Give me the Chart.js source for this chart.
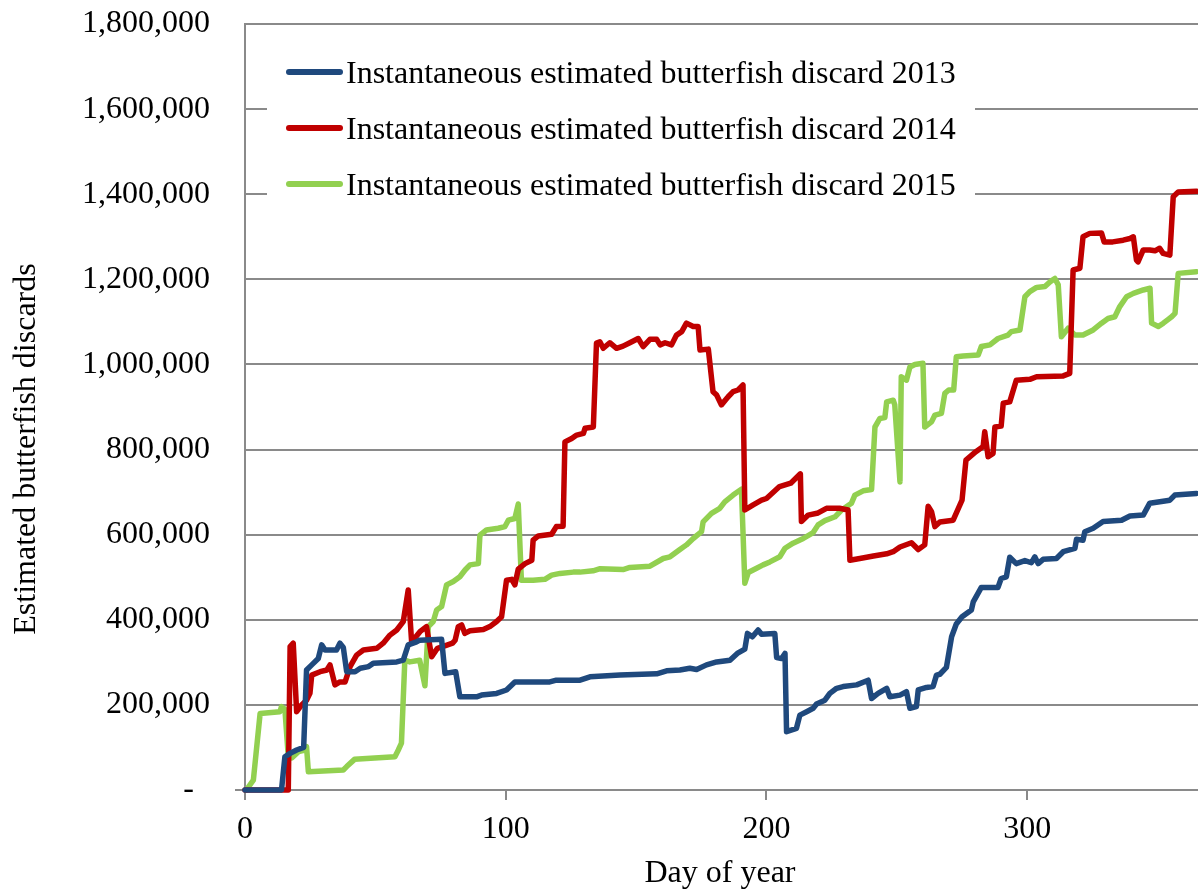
<!DOCTYPE html>
<html>
<head>
<meta charset="utf-8">
<script src="https://cdn.jsdelivr.net/npm/chart.js@4.4.1/dist/chart.umd.min.js"></script>
<style>
  html, body { margin: 0; padding: 0; background: #fff; }
  #wrap { width: 1198px; height: 894px; }
</style>
</head>
<body>
<div id="wrap"><canvas id="chart" width="1198" height="894"></canvas></div>
<script>
// values are in thousands of fish
const days2013 = [0, 14, 15.3, 17.3, 19.8, 22.5, 23.6, 25.6, 28.1, 29.4, 30.7, 35.1, 36.4, 37.7, 39, 42.2, 44.2, 47.4, 49.2, 58.2, 60.7, 62.6, 65.8, 67, 75.4, 76.7, 80.8, 82.4, 88.8, 90.7, 96.5, 100.3, 103.5, 116.9, 119.4, 128.5, 132.3, 143.8, 157.9, 161.7, 166.8, 170.6, 173.2, 177, 180.9, 186, 188.8, 191.7, 192.7, 194.6, 196.8, 198.1, 203.2, 203.9, 205.8, 207.1, 207.7, 211.5, 212.8, 215.4, 217.9, 219.2, 222.4, 224.3, 226.9, 229.4, 234.6, 239, 240.3, 242.8, 246.1, 247.3, 251.2, 253.7, 255, 257.5, 258.2, 261.4, 263.9, 265.2, 266.5, 269, 271, 272.8, 275, 278.6, 279.3, 282.4, 288.8, 290, 292, 293.3, 295.8, 299.1, 301.6, 302.9, 304.2, 306.1, 311.2, 313.8, 318.3, 318.9, 321.4, 322.1, 325.3, 329.1, 336.2, 339.4, 344.5, 347, 354.7, 356.6, 364.9];
const vals2013 = [0, 0, 78, 86, 94, 100, 282, 294, 309, 341, 329, 329, 345, 335, 278, 278, 286, 290, 298, 301, 305, 341, 348, 352, 354, 274, 278, 219, 219, 223, 227, 235, 254, 254, 258, 258, 266, 270, 273, 280, 282, 286, 283, 294, 301, 305, 321, 331, 368, 360, 376, 366, 368, 311, 309, 321, 137, 145, 176, 184, 192, 202, 211, 227, 239, 243, 247, 258, 215, 227, 239, 219, 223, 231, 192, 196, 235, 241, 243, 270, 272, 288, 360, 390, 407, 423, 442, 476, 476, 497, 501, 547, 532, 539, 534, 548, 532, 542, 544, 560, 568, 589, 587, 607, 615, 631, 634, 644, 646, 674, 681, 693, 697];

const days2014 = [0, 16.6, 17.3, 18.5, 19.8, 21.7, 23.6, 24.9, 25.6, 28.8, 31.4, 32.6, 34.5, 36.4, 38.4, 40.3, 42.8, 45.4, 50.5, 53, 55.6, 58.2, 60.7, 62.6, 63.9, 67.1, 69.6, 71.6, 73.8, 75.8, 79.6, 80.6, 81.8, 83.1, 84.3, 86.3, 91.4, 93.9, 96.5, 98.4, 100.3, 102.3, 103.5, 104.8, 107.4, 110, 110.5, 112.5, 117.6, 119.4, 122, 122.7, 125.3, 127.2, 129.8, 130.4, 133.6, 134.8, 136.1, 137.4, 139.9, 142.5, 145, 147.6, 150.8, 152.7, 155.3, 157.9, 159.2, 161.1, 163.6, 165.5, 167.5, 169.3, 171.9, 173.8, 174.5, 177.7, 179.5, 180.9, 182.7, 185.3, 187.2, 189.1, 191, 191.7, 194.9, 198.1, 200, 205, 209.3, 213, 213.4, 216, 219.8, 223, 228, 231.3, 232, 235.8, 241, 246.1, 248.6, 251.2, 255.6, 258.2, 260.7, 262, 263.3, 264.6, 266.5, 271.6, 275, 276.5, 280.3, 283.1, 283.7, 285, 286.9, 287.6, 290, 290.8, 293.3, 295.8, 301, 303.6, 313.8, 316.3, 317.6, 320.2, 321.4, 324, 328.5, 329.5, 332.8, 336.8, 339.4, 340.7, 341.9, 342.5, 344.5, 347, 349, 350.8, 352.1, 354.7, 356, 357.9, 364.9];
const vals2014 = [0, 0, 337, 345, 184, 200, 211, 227, 270, 278, 282, 294, 247, 254, 254, 290, 317, 329, 333, 345, 364, 376, 396, 470, 348, 372, 384, 313, 333, 337, 345, 352, 384, 388, 368, 374, 377, 384, 396, 407, 493, 495, 482, 519, 532, 540, 587, 597, 601, 619, 620, 818, 826, 834, 838, 850, 853, 1050, 1053, 1038, 1051, 1038, 1043, 1051, 1061, 1042, 1059, 1059, 1046, 1051, 1046, 1069, 1077, 1097, 1089, 1089, 1034, 1036, 936, 928, 905, 924, 936, 940, 952, 658, 670, 681, 685, 713, 721, 743, 631, 646, 651, 662, 662, 658, 540, 544, 550, 555, 560, 571, 581, 565, 576, 667, 654, 619, 630, 634, 681, 775, 795, 807, 842, 783, 791, 853, 855, 909, 912, 963, 965, 971, 973, 979, 1222, 1226, 1300, 1308, 1309, 1288, 1288, 1292, 1296, 1300, 1245, 1241, 1269, 1269, 1267, 1273, 1261, 1257, 1394, 1405, 1407];

const days2015 = [0.5, 3.2, 5.8, 13.4, 14, 15.3, 16.6, 17.9, 20.5, 23, 23.6, 24.3, 37.7, 39, 42, 57.5, 58.8, 60, 61.3, 63.2, 67, 69, 70.3, 72.2, 73.5, 75.4, 77.3, 79.9, 82.4, 84.4, 86.3, 89.5, 90.1, 92.6, 97.1, 99.7, 101, 103.5, 104.8, 106, 110.5, 115, 117.6, 120.8, 125.9, 128.5, 133.5, 136.2, 145, 147.6, 155.3, 160.4, 163, 166.8, 169.3, 171.9, 175.1, 175.7, 178.9, 182.1, 184, 187.2, 190.4, 191.7, 193, 196.2, 198.7, 201.3, 205.1, 207.1, 210.2, 214.1, 217.9, 219.8, 222.4, 226.3, 228.8, 232.6, 233.9, 237.1, 240.3, 241.6, 243.5, 245.4, 246.1, 248.6, 249.2, 251.2, 251.7, 253.7, 255, 256.9, 260, 260.7, 263.3, 264.6, 267.1, 268.4, 269.9, 271.8, 272.8, 275.4, 281.2, 282.4, 285.7, 288.8, 292.6, 293.9, 297.2, 299.1, 301, 303.6, 306.8, 308.7, 310.6, 311.9, 313.1, 315.7, 318.3, 321.4, 325.3, 328.5, 331, 333.6, 335.5, 338.1, 340.7, 344.5, 347.1, 347.7, 350.3, 352.2, 354.1, 355.4, 356.7, 357.9, 364.9];
const vals2015 = [0, 23, 180, 184, 196, 190, 78, 75, 90, 94, 102, 43, 47, 55, 72, 78, 94, 110, 305, 301, 305, 245, 384, 396, 423, 431, 482, 490, 501, 517, 529, 532, 599, 611, 615, 619, 634, 638, 672, 493, 493, 495, 505, 509, 512, 512, 515, 520, 518, 523, 526, 544, 548, 565, 576, 591, 607, 630, 650, 662, 677, 693, 707, 486, 511, 521, 529, 536, 548, 568, 580, 591, 605, 623, 633, 642, 658, 674, 693, 703, 706, 853, 873, 875, 912, 916, 905, 724, 971, 963, 994, 1000, 1003, 853, 865, 881, 885, 932, 940, 940, 1018, 1020, 1022, 1042, 1046, 1061, 1069, 1077, 1081, 1159, 1171, 1181, 1183, 1194, 1202, 1187, 1065, 1085, 1069, 1069, 1081, 1097, 1108, 1112, 1136, 1159, 1167, 1175, 1179, 1097, 1089, 1097, 1106, 1112, 1120, 1214, 1218];

const seriesLabels = [
  'Instantaneous estimated butterfish discard 2013',
  'Instantaneous estimated butterfish discard 2014',
  'Instantaneous estimated butterfish discard 2015'
];
const seriesColors = ['#1F497D', '#C00000', '#92D050'];
const xTicks = [0, 100, 200, 300];
const xTitle = 'Day of year';
const yTitle = 'Estimated butterfish discards';

const FONT = "'Liberation Serif', 'Times New Roman', serif";
const GRID = '#8a8a8a';

function toPoints(days, vals) {
  return days.map((d, i) => ({ x: d, y: vals[i] * 1000 }));
}

const datasets = [
  toPoints(days2013, vals2013),
  toPoints(days2014, vals2014),
  toPoints(days2015, vals2015)
].map((pts, i) => ({
  label: seriesLabels[i],
  data: pts,
  borderColor: seriesColors[i],
  backgroundColor: seriesColors[i],
  borderWidth: 5.5,
  pointRadius: 0,
  tension: 0,
  fill: false,
  clip: false,
  borderJoinStyle: 'round',
  borderCapStyle: 'round',
  order: i + 1
}));

const decorPlugin = {
  id: 'decor',
  beforeDatasetsDraw(chart) {
    const ctx = chart.ctx;
    ctx.save();
    // little stub where the x axis runs past the y axis
    ctx.strokeStyle = GRID;
    ctx.lineWidth = 2;
    ctx.beginPath();
    ctx.moveTo(235, chart.chartArea.bottom);
    ctx.lineTo(245, chart.chartArea.bottom);
    ctx.stroke();
    // legend box
    ctx.fillStyle = '#fff';
    ctx.fillRect(267, 40, 708, 172);
    const rows = [72, 128, 184];
    rows.forEach((y, i) => {
      ctx.strokeStyle = seriesColors[i];
      ctx.lineWidth = 6;
      ctx.lineCap = 'round';
      ctx.beginPath();
      ctx.moveTo(289, y);
      ctx.lineTo(340, y);
      ctx.stroke();
      ctx.fillStyle = '#000';
      ctx.font = '32px ' + FONT;
      ctx.textAlign = 'left';
      ctx.textBaseline = 'alphabetic';
      ctx.fillText(seriesLabels[i], 346, y + 11);
    });
    ctx.restore();
  },
  afterDraw(chart) {
    const ctx = chart.ctx;
    ctx.save();
    ctx.fillStyle = '#000';
    ctx.font = '32px ' + FONT;
    ctx.textAlign = 'center';
    ctx.textBaseline = 'alphabetic';
    ctx.fillText(xTitle, 720, 882);
    ctx.translate(35, 449);
    ctx.rotate(-Math.PI / 2);
    ctx.fillText(yTitle, 0, 0);
    ctx.restore();
  }
};

new Chart(document.getElementById('chart'), {
  type: 'line',
  data: { datasets },
  options: {
    responsive: false,
    animation: false,
    layout: { padding: { top: 24, right: 0, left: 0, bottom: 0 } },
    plugins: {
      legend: { display: false },
      tooltip: { enabled: false }
    },
    scales: {
      x: {
        type: 'linear',
        min: 0,
        max: 365.5,
        afterBuildTicks(scale) {
          scale.ticks = xTicks.map(v => ({ value: v }));
        },
        afterFit(scale) {
          scale.height = 104;
          scale.paddingLeft = 0;
          scale.paddingRight = 0;
        },
        border: { display: true, color: GRID, width: 2 },
        grid: { drawOnChartArea: false, drawTicks: true, tickLength: 10, color: GRID, lineWidth: 2 },
        ticks: {
          color: '#000',
          font: { family: FONT, size: 32 },
          padding: 10,
          maxRotation: 0,
          autoSkip: false
        }
      },
      y: {
        min: 0,
        max: 1800000,
        afterFit(scale) {
          scale.width = 245;
          scale.paddingTop = 0;
          scale.paddingBottom = 0;
        },
        border: { display: true, color: GRID, width: 2 },
        grid: { color: GRID, lineWidth: 2, drawTicks: false },
        ticks: {
          stepSize: 200000,
          color: '#000',
          padding: 35,
          font: { family: FONT, size: 32 },
          callback: v => v === 0 ? '-  ' : v.toLocaleString('en-US')
        }
      }
    }
  },
  plugins: [decorPlugin]
});
</script>
</body>
</html>
